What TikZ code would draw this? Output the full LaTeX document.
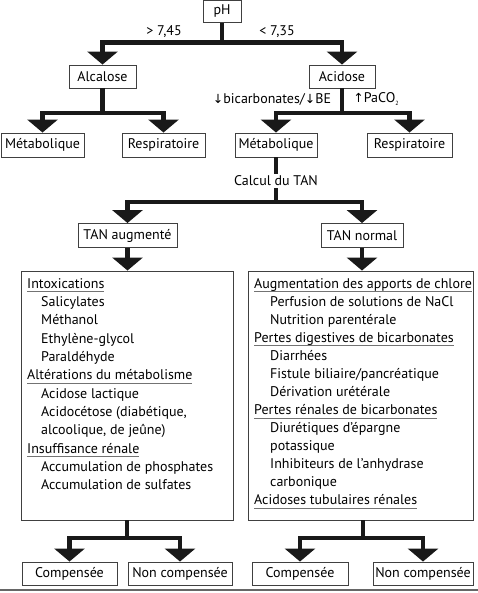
\documentclass[tikz,border=0pt]{standalone}
\usepackage{fontspec}
\setmainfont{PT Sans}
\newfontfamily\symf{DejaVu Sans}
\usetikzlibrary{arrows.meta}
\newcommand\hdl[1]{\setbox0\hbox{#1}\leavevmode\rlap{\color{black!55}\rule[-3.8pt]{\wd0}{0.8pt}}\box0}
\newcommand\dn{{\symf\fontsize{12.5}{14}\selectfont ↓}}
\newcommand\up{{\symf\fontsize{12.5}{14}\selectfont ↑}}
\begin{document}
\begin{tikzpicture}[x=1pt,y=-1pt,
  txt/.style={font=\fontsize{14}{16}\selectfont, text=black},
  box/.style={txt, draw=black!75, line width=0.9pt, inner sep=0pt, minimum height=23pt},
  bigbox/.style={draw=black!75, line width=0.9pt, inner sep=0pt},
  conn/.style={line width=4.3pt, draw=black!90, line join=miter},
  arr/.style={conn, -{Triangle[width=30pt,length=13pt]}},
  lbl/.style={txt, inner sep=1pt},
  lst/.style={txt, anchor=base west, inner sep=0pt}]
\useasboundingbox (0,0) rectangle (478,593);
% top level
\node[box, minimum width=38pt, minimum height=22pt] (ph) at (222,11.5) {pH};
\node[box, minimum width=67pt] (alc) at (102.5,76.5) {Alcalose};
\node[box, minimum width=66pt] (acid) at (342,76.5) {Acidose};
\coordinate (j1) at (222,42.5);
\draw[conn] (ph.south) -- (j1);
\draw[arr] (j1) -| (alc.north);
\draw[arr] (j1) -| (acid.north);
\node[lbl] (gt) at (164,32) {> 7,45};
\node[lbl] (lt) at (277,32) {< 7,35};
% second level
\node[box, minimum width=83pt, minimum height=24pt] (met1) at (42.5,145) {Métabolique};
\node[box, minimum width=83pt, minimum height=24pt] (resp1) at (163.5,145) {Respiratoire};
\node[box, minimum width=82pt, minimum height=24pt] (met2) at (276,145) {Métabolique};
\node[box, minimum width=85pt, minimum height=24pt] (resp2) at (409.5,145) {Respiratoire};
\coordinate (j2) at (102.5,113);
\draw[conn] (alc.south) -- (j2);
\draw[arr] (j2) -| (met1.north);
\draw[arr] (j2) -| (resp1.north);
\coordinate (j3) at (342,113);
\draw[conn] (acid.south) -- (j3);
\draw[arr] (j3) -| (met2.north);
\draw[arr] (j3) -| (resp2.north);
\node[lbl] (bic) at (272,99) {\dn bicarbonates/\dn BE};
\node[lbl] (paco) at (376,99) {\up PaCO\raisebox{-3pt}{\fontsize{6}{7}\selectfont 2}};
% TAN
\node[box, minimum width=99pt, minimum height=24pt] (tanA) at (127.5,235.5) {TAN augmenté};
\node[box, minimum width=82pt, minimum height=24pt] (tanN) at (362,235.5) {TAN normal};
\coordinate (j4) at (276,202);
\draw[conn] (met2.south) -- (j4);
\draw[arr] (j4) -| (tanA.north);
\draw[arr] (j4) -| (tanN.north);
\node[lbl, fill=white, inner sep=1.5pt] (calc) at (276,181) {Calcul du TAN};
% big boxes
\node[bigbox, minimum width=212pt, minimum height=249pt] (bL) at (127,395.5) {};
\node[bigbox, minimum width=225pt, minimum height=249pt] (bR) at (360.5,395.5) {};
\draw[arr] (tanA.south) -- (tanA.south |- bL.north);
\draw[arr] (tanN.south) -- (tanN.south |- bR.north);
\node[lst] (tL) at (27,288) {\parbox[t]{204pt}{\fontsize{14}{18.36}\selectfont
\hdl{Intoxications}\\
\hspace*{14pt}Salicylates\\
\hspace*{14pt}Méthanol\\
\hspace*{14pt}Ethylène-glycol\\
\hspace*{14pt}Paraldéhyde\\
\hdl{Altérations du métabolisme}\\
\hspace*{14pt}Acidose lactique\\
\hspace*{14pt}Acidocétose (diabétique,\\
\hspace*{14pt}alcoolique, de jeûne)\\
\hdl{Insuffisance rénale}\\
\hspace*{14pt}Accumulation de phosphates\\
\hspace*{14pt}Accumulation de sulfates}};
\node[lst] (tR) at (254,288) {\parbox[t]{218pt}{\fontsize{14}{18.08}\selectfont
\hdl{Augmentation des apports de chlore}\\
\hspace*{16pt}Perfusion de solutions de NaCl\\
\hspace*{16pt}Nutrition parentérale\\
\hdl{Pertes digestives de bicarbonates}\\
\hspace*{16pt}Diarrhées\\
\hspace*{16pt}Fistule biliaire/pancréatique\\
\hspace*{16pt}Dérivation urétérale\\
\hdl{Pertes rénales de bicarbonates}\\
\hspace*{16pt}Diurétiques d’épargne\\
\hspace*{16pt}potassique\\
\hspace*{16pt}Inhibiteurs de l’anhydrase\\
\hspace*{16pt}carbonique\\
\hdl{Acidoses tubulaires rénales}}};
% bottom
\node[box, minimum width=95pt] (c1) at (69.5,573.5) {Compensée};
\node[box, minimum width=104pt] (n1) at (180,573.5) {Non compensée};
\node[box, minimum width=96pt] (c2) at (300,573.5) {Compensée};
\node[box, minimum width=100pt] (n2) at (423,573.5) {Non compensée};
\coordinate (j5) at (127,538);
\coordinate (j6) at (363,538);
\draw[conn] (bL.south) -- (j5);
\draw[arr] (j5) -| (c1.north);
\draw[arr] (j5) -| (n1.north);
\draw[conn] (bR.south -| j6) -- (j6);
\draw[arr] (j6) -| (c2.north);
\draw[arr] (j6) -| (n2.north);
\draw[black!60, line width=2pt] (0,590) -- (478,590);
\end{tikzpicture}
\end{document}
